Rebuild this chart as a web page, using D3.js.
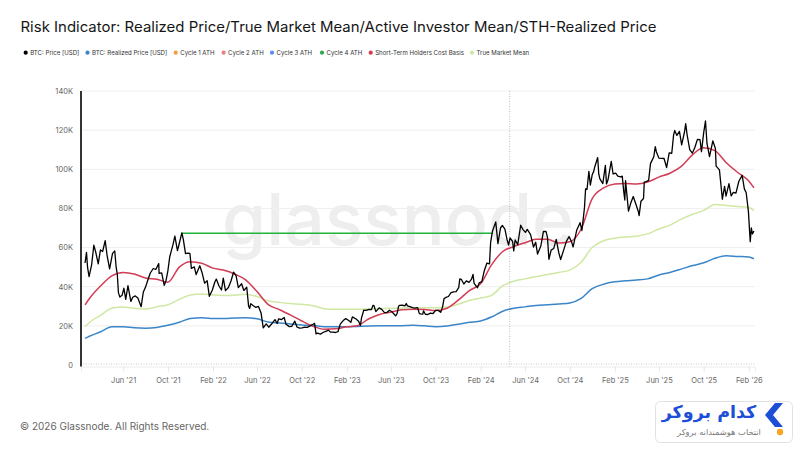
<!DOCTYPE html>
<html>
<head>
<meta charset="utf-8">
<script src="https://cdn.jsdelivr.net/npm/d3@7"></script>
<style>
  body { margin: 0; background: #fff; }
  svg { display: block; font-family: Inter, "Noto Sans", sans-serif; }
</style>
</head>
<body>
<div id="chart"></div>
<script>
// BTC price, roughly weekly
const priceData = [
  ["2021-02-17",52100],["2021-02-21",57500],["2021-02-24",49700],["2021-02-28",45200],["2021-03-07",51200],
  ["2021-03-13",61200],["2021-03-18",57800],["2021-03-25",51700],["2021-03-31",58800],["2021-04-06",58000],
  ["2021-04-13",63500],["2021-04-18",56200],["2021-04-25",49100],["2021-05-03",57000],["2021-05-09",58300],
  ["2021-05-13",49700],["2021-05-16",46400],["2021-05-19",37000],["2021-05-23",34700],["2021-05-29",35600],
  ["2021-06-03",39200],["2021-06-08",33500],["2021-06-14",40500],["2021-06-22",32500],["2021-06-27",34600],
  ["2021-07-04",35300],["2021-07-11",34200],["2021-07-20",29800],["2021-07-26",37300],["2021-08-01",39800],
  ["2021-08-08",43800],["2021-08-14",47000],["2021-08-22",49300],["2021-08-29",48800],["2021-09-06",51800],
  ["2021-09-07",46800],["2021-09-14",47100],["2021-09-21",40700],["2021-09-26",43200],["2021-10-01",48200],
  ["2021-10-06",55300],["2021-10-15",61600],["2021-10-20",65900],["2021-10-27",58400],["2021-10-31",61300],
  ["2021-11-08",67500],["2021-11-12",64200],["2021-11-18",56900],["2021-11-24",57200],["2021-11-30",57000],
  ["2021-12-04",49400],["2021-12-12",50100],["2021-12-17",46200],["2021-12-27",50700],["2022-01-02",47300],
  ["2022-01-09",41800],["2022-01-16",43100],["2022-01-22",35100],["2022-01-30",38200],["2022-02-06",42400],
  ["2022-02-10",43900],["2022-02-17",40500],["2022-02-24",38300],["2022-03-01",44400],["2022-03-07",38000],
  ["2022-03-15",39600],["2022-03-22",42900],["2022-03-29",47400],["2022-04-05",45500],["2022-04-11",39500],
  ["2022-04-20",41500],["2022-04-26",38100],["2022-05-04",39700],["2022-05-09",30100],["2022-05-12",28900],
  ["2022-05-15",31300],["2022-05-22",30300],["2022-05-29",29400],["2022-06-05",29900],["2022-06-12",26600],
  ["2022-06-18",19000],["2022-06-26",21000],["2022-07-03",19300],["2022-07-10",20800],["2022-07-20",23200],
  ["2022-07-26",21200],["2022-07-30",23600],["2022-08-07",23200],["2022-08-14",24300],["2022-08-19",20800],
  ["2022-08-28",19600],["2022-09-04",19800],["2022-09-12",22400],["2022-09-18",19400],["2022-09-25",18800],
  ["2022-10-02",19000],["2022-10-09",19400],["2022-10-16",19200],["2022-10-25",20100],["2022-10-30",20600],
  ["2022-11-05",21300],["2022-11-09",15900],["2022-11-13",16300],["2022-11-21",15800],["2022-11-27",16500],
  ["2022-12-04",17100],["2022-12-13",17800],["2022-12-18",16800],["2022-12-25",16800],["2023-01-01",16600],
  ["2023-01-08",17100],["2023-01-14",20900],["2023-01-22",22700],["2023-01-29",23700],["2023-02-05",22900],
  ["2023-02-12",21800],["2023-02-16",24600],["2023-02-26",23500],["2023-03-05",22400],["2023-03-10",20200],
  ["2023-03-13",24100],["2023-03-19",28000],["2023-03-26",27900],["2023-04-02",28400],["2023-04-09",28300],
  ["2023-04-13",30400],["2023-04-16",30300],["2023-04-21",27300],["2023-04-30",29200],["2023-05-07",28400],
  ["2023-05-14",26900],["2023-05-21",26800],["2023-05-28",28000],["2023-06-04",27200],["2023-06-14",25100],
  ["2023-06-18",26300],["2023-06-22",30000],["2023-06-25",30500],["2023-07-02",30600],["2023-07-09",30200],
  ["2023-07-13",31400],["2023-07-16",30200],["2023-07-23",29800],["2023-07-30",29300],["2023-08-06",29100],
  ["2023-08-13",29300],["2023-08-17",26600],["2023-08-20",26100],["2023-08-27",26000],["2023-08-29",27700],
  ["2023-09-03",25900],["2023-09-10",25800],["2023-09-17",26500],["2023-09-24",26300],["2023-10-01",27900],
  ["2023-10-08",27900],["2023-10-15",26900],["2023-10-20",29700],["2023-10-24",33900],["2023-10-29",34500],
  ["2023-11-05",35000],["2023-11-12",37000],["2023-11-19",37400],["2023-11-26",37500],["2023-12-03",39500],
  ["2023-12-06",44000],["2023-12-10",43800],["2023-12-17",41400],["2023-12-24",43000],["2023-12-31",42200],
  ["2024-01-07",43900],["2024-01-11",46300],["2024-01-14",41700],["2024-01-23",39500],["2024-01-28",42000],
  ["2024-02-04",42600],["2024-02-11",48300],["2024-02-18",52100],["2024-02-25",51700],["2024-02-28",62500],
  ["2024-03-04",68300],["2024-03-13",73100],["2024-03-19",62000],["2024-03-26",70000],["2024-03-31",71300],
  ["2024-04-07",69400],["2024-04-13",63900],["2024-04-17",61300],["2024-04-21",64900],["2024-04-28",63100],
  ["2024-05-01",58300],["2024-05-05",63900],["2024-05-12",61500],["2024-05-20",71400],["2024-05-26",69300],
  ["2024-06-02",67800],["2024-06-07",69300],["2024-06-16",66600],["2024-06-24",60300],["2024-06-30",62700],
  ["2024-07-05",56700],["2024-07-14",60800],["2024-07-21",68200],["2024-07-28",68300],["2024-08-01",65300],
  ["2024-08-05",54000],["2024-08-11",58700],["2024-08-18",59500],["2024-08-25",64200],["2024-09-01",57300],
  ["2024-09-06",53900],["2024-09-15",59200],["2024-09-22",63300],["2024-09-29",65600],["2024-10-06",62800],
  ["2024-10-10",60300],["2024-10-13",62900],["2024-10-20",69000],["2024-10-29",72700],["2024-11-03",68700],
  ["2024-11-10",80400],["2024-11-13",90000],["2024-11-17",89800],["2024-11-22",98900],["2024-11-26",91900],
  ["2024-12-01",97200],["2024-12-05",98800],["2024-12-08",101200],["2024-12-16",106000],["2024-12-19",97500],
  ["2024-12-22",95100],["2024-12-30",92700],["2025-01-06",102000],["2025-01-09",92500],["2025-01-13",94500],
  ["2025-01-20",102000],["2025-01-22",104000],["2025-01-27",97600],["2025-02-03",98000],["2025-02-09",96500],
  ["2025-02-16",96100],["2025-02-21",96500],["2025-02-25",88700],["2025-02-28",84300],["2025-03-02",94200],
  ["2025-03-10",78600],["2025-03-16",82600],["2025-03-23",86100],["2025-03-30",82300],["2025-04-06",78300],
  ["2025-04-08",76300],["2025-04-13",83700],["2025-04-20",85100],["2025-04-22",93400],["2025-04-27",93700],
  ["2025-05-04",94300],["2025-05-09",102900],["2025-05-18",106400],["2025-05-22",111600],["2025-05-25",109000],
  ["2025-06-01",105700],["2025-06-08",105600],["2025-06-15",105500],["2025-06-22",100900],["2025-06-29",108400],
  ["2025-07-06",108200],["2025-07-11",117500],["2025-07-14",119800],["2025-07-20",117300],["2025-07-27",119400],
  ["2025-08-02",112500],["2025-08-10",119300],["2025-08-13",123300],["2025-08-17",117500],["2025-08-24",110000],
  ["2025-08-31",108200],["2025-09-07",111100],["2025-09-14",115300],["2025-09-21",115200],["2025-09-25",109000],
  ["2025-10-01",118600],["2025-10-06",124700],["2025-10-10",113200],["2025-10-17",106500],["2025-10-26",114500],
  ["2025-11-02",110600],["2025-11-04",101600],["2025-11-13",99700],["2025-11-17",92200],["2025-11-21",84700],
  ["2025-11-27",91300],["2025-12-01",86300],["2025-12-09",92700],["2025-12-15",86400],["2025-12-21",88200],
  ["2025-12-28",87800],["2026-01-05",93900],["2026-01-14",96900],["2026-01-20",90000],["2026-01-25",88000],
  ["2026-01-31",78500],["2026-02-05",63000],["2026-02-08",70000],["2026-02-11",67000],["2026-02-15",68500]
];

// monthly dates shared by the smooth series
const monthDates = [
  "2021-02-17","2021-03-01","2021-04-01","2021-05-01","2021-06-01","2021-07-01","2021-08-01","2021-09-01",
  "2021-10-01","2021-11-01","2021-12-01","2022-01-01","2022-02-01","2022-03-01","2022-04-01","2022-05-01",
  "2022-06-01","2022-07-01","2022-08-01","2022-09-01","2022-10-01","2022-11-01","2022-12-01","2023-01-01",
  "2023-02-01","2023-03-01","2023-04-01","2023-05-01","2023-06-01","2023-07-01","2023-08-01","2023-09-01",
  "2023-10-01","2023-11-01","2023-12-01","2024-01-01","2024-02-01","2024-03-01","2024-04-01","2024-05-01",
  "2024-06-01","2024-07-01","2024-08-01","2024-09-01","2024-10-01","2024-11-01","2024-12-01","2025-01-01",
  "2025-02-01","2025-03-01","2025-04-01","2025-05-01","2025-06-01","2025-07-01","2025-08-01","2025-09-01",
  "2025-10-01","2025-11-01","2025-12-01","2026-01-01","2026-02-01","2026-02-15"
];

const realizedValues = [
  13600,14700,17000,19500,19600,19000,18800,19200,20300,21800,23800,24100,23800,23700,24000,24200,
  23600,22000,21500,21000,20500,20200,19600,19600,19600,19700,19900,20000,20000,20100,20300,20000,
  19600,19900,20800,21800,22500,24500,27500,29000,29700,30400,30800,31200,31700,34000,39000,41300,
  42500,43000,43400,44000,46000,47300,49000,50800,52200,54500,55800,55500,55200,54300
];

const sthValues = [
  30700,34000,40500,45500,47300,46500,44500,43800,42300,50000,52800,52000,49500,48500,46500,43500,
  37500,31000,28300,25500,22500,19800,18300,18500,19500,20000,23500,25800,27000,28200,28500,28300,
  27800,29000,33000,38000,41600,51000,58000,60500,62500,64200,64300,62300,63000,69500,85000,90500,
  92500,92800,92500,93500,96000,98000,101500,107500,111000,109500,103500,98500,94000,90500
];

const tmmValues = [
  19600,21700,25500,29000,29600,29000,28600,29800,30800,33500,35800,36300,35800,35500,35700,36200,
  35000,32800,32000,31400,31000,30300,28800,28500,28500,28500,28600,28800,29000,29100,29300,29300,
  29300,29600,31000,33000,34200,35500,40500,42800,44000,45200,46200,47300,48500,52500,60000,63500,
  64800,65400,65800,67000,69500,71500,74500,77000,79000,82000,81500,81000,80500,78800
];

const athLevel = 67300;
const athSpan = ["2021-11-08", "2024-03-04"];
const halvingDate = "2024-04-20";

const yTicks = [0, 20000, 40000, 60000, 80000, 100000, 120000, 140000];
const xTickDates = ["2021-06-01","2021-10-01","2022-02-01","2022-06-01","2022-10-01","2023-02-01","2023-06-01",
  "2023-10-01","2024-02-01","2024-06-01","2024-10-01","2025-02-01","2025-06-01","2025-10-01","2026-02-01"];

const legendLabels = ["BTC: Price [USD]", "BTC: Realized Price [USD]", "Cycle 1 ATH", "Cycle 2 ATH",
  "Cycle 3 ATH", "Cycle 4 ATH", "Short-Term Holders Cost Basis", "True Market Mean"];
const legendColors = ["#000000", "#3a86c8", "#f59d3d", "#ef7f7f", "#5b8ff0", "#2fa84f", "#d23c55", "#cfe8a4"];
const legendX = [25.7, 87.5, 175.7, 223.6, 272, 322, 370.7, 472];

const width = 800, height = 450;
const parse = d3.timeParse("%Y-%m-%d");

const x = d3.scaleTime()
  .domain([parse("2021-02-06"), parse("2026-02-18")])
  .range([81, 755]);
const y = d3.scaleLinear()
  .domain([0, 140000])
  .range([365, 91]);

const svg = d3.select("#chart").append("svg")
  .attr("width", width)
  .attr("height", height);

svg.append("rect").attr("width", width).attr("height", height).attr("fill", "#fff");

// title
svg.append("text")
  .attr("x", 20.5).attr("y", 31.7)
  .attr("font-size", 14.2)
  .attr("fill", "#161616")
  .attr("textLength", 636)
  .attr("lengthAdjust", "spacingAndGlyphs")
  .text("Risk Indicator: Realized Price/True Market Mean/Active Investor Mean/STH-Realized Price");

// legend
const legend = svg.append("g")
  .selectAll("g")
  .data(legendLabels)
  .join("g")
  .attr("transform", (d, i) => `translate(${legendX[i]},52.7)`);
legend.append("circle").attr("r", 2.1).attr("fill", (d, i) => legendColors[i]);
legend.append("text")
  .attr("x", 4.5).attr("dy", "0.35em")
  .attr("font-size", 6.1)
  .attr("fill", "#333")
  .text(d => d);

// watermark
svg.append("text")
  .attr("x", 222).attr("y", 245)
  .attr("font-size", 72)
  .attr("font-weight", 500)
  .attr("fill", "#eeeeee")
  .attr("textLength", 352)
  .attr("lengthAdjust", "spacingAndGlyphs")
  .text("glassnode");

// gridlines
svg.append("g")
  .selectAll("line")
  .data(yTicks.filter(d => d > 0))
  .join("line")
  .attr("x1", 81).attr("x2", 755)
  .attr("y1", d => y(d)).attr("y2", d => y(d))
  .attr("stroke", "#eeeeee");

svg.append("line")
  .attr("x1", 81).attr("x2", 755)
  .attr("y1", y(0) - 1).attr("y2", y(0) - 1)
  .attr("stroke", "#c8c8c8")
  .attr("stroke-dasharray", "1,1.5");

// axes
const xAxis = svg.append("g")
  .attr("transform", `translate(0,${y(0) + 1.5})`)
  .call(d3.axisBottom(x)
    .tickValues(xTickDates.map(parse))
    .tickSize(5)
    .tickPadding(6)
    .tickFormat(d3.timeFormat("%b '%y")));
xAxis.select(".domain").attr("stroke", "#ececec");
xAxis.selectAll(".tick line").attr("stroke", "#e6e6e6");
xAxis.selectAll("text")
  .attr("font-size", 7.5)
  .attr("fill", "#666")
  .attr("font-family", "Inter, sans-serif");

const yAxis = svg.append("g")
  .attr("transform", "translate(81,0)")
  .call(d3.axisLeft(y)
    .tickValues(yTicks)
    .tickSize(0)
    .tickPadding(8)
    .tickFormat(d => d === 0 ? "0" : (d / 1000) + "K"));
yAxis.select(".domain").remove();
yAxis.selectAll("text")
  .attr("font-size", 7.5)
  .attr("fill", "#666")
  .attr("font-family", "Inter, sans-serif");

svg.append("line")
  .attr("x1", 81).attr("x2", 81)
  .attr("y1", y(140000)).attr("y2", y(0) + 1.5)
  .attr("stroke", "#000")
  .attr("stroke-width", 1.6);

// halving marker
svg.append("line")
  .attr("x1", x(parse(halvingDate))).attr("x2", x(parse(halvingDate)))
  .attr("y1", y(140000)).attr("y2", y(0) + 1.5)
  .attr("stroke", "#bdbdbd")
  .attr("stroke-dasharray", "1,1.5");

// ATH line
svg.append("line")
  .attr("x1", x(parse(athSpan[0]))).attr("x2", x(parse(athSpan[1])))
  .attr("y1", y(athLevel)).attr("y2", y(athLevel))
  .attr("stroke", "#1fb53a")
  .attr("stroke-width", 1.4);

const smooth = d3.line()
  .x(d => x(d[0]))
  .y(d => y(d[1]))
  .curve(d3.curveMonotoneX);

const months = monthDates.map(parse);
const series = [
  { values: realizedValues, color: "#3a86c8" },
  { values: tmmValues, color: "#cfe8a4" },
  { values: sthValues, color: "#d23c55" }
];

svg.append("g")
  .selectAll("path")
  .data(series)
  .join("path")
  .attr("d", s => smooth(s.values.map((v, i) => [months[i], v])))
  .attr("fill", "none")
  .attr("stroke", s => s.color)
  .attr("stroke-width", 1.5);

const priceLine = d3.line()
  .x(d => x(parse(d[0])))
  .y(d => y(d[1]));

svg.append("path")
  .attr("d", priceLine(priceData))
  .attr("fill", "none")
  .attr("stroke", "#000")
  .attr("stroke-width", 1.3)
  .attr("stroke-linejoin", "round");

// footer
svg.append("text")
  .attr("x", 20).attr("y", 429.5)
  .attr("font-size", 10)
  .attr("fill", "#666")
  .text("© 2026 Glassnode. All Rights Reserved.");

// broker logo
const logo = svg.append("g");
logo.append("rect")
  .attr("x", 655.5).attr("y", 401.5)
  .attr("width", 137).attr("height", 41)
  .attr("rx", 5)
  .attr("fill", "#fff")
  .attr("stroke", "#e2e2e2");
logo.append("path")
  .attr("d", "M783,403 L775,403 L765,415 L775,427 L783,427 L773,415 Z")
  .attr("fill", "#1c4fd6");
logo.append("circle")
  .attr("cx", 780).attr("cy", 432).attr("r", 3.2)
  .attr("fill", "#f6a623");
logo.append("text")
  .attr("x", 709).attr("y", 418)
  .attr("text-anchor", "middle")
  .attr("font-family", "'DejaVu Sans', sans-serif")
  .attr("font-size", 17.5)
  .attr("font-weight", "bold")
  .attr("fill", "#1c4fd6")
  .attr("direction", "rtl")
  .text("کدام بروکر");
logo.append("text")
  .attr("x", 719).attr("y", 435)
  .attr("text-anchor", "middle")
  .attr("font-family", "'DejaVu Sans', sans-serif")
  .attr("font-size", 8.3)
  .attr("fill", "#7a7a7a")
  .attr("direction", "rtl")
  .text("انتخاب هوشمندانه بروکر");
</script>
</body>
</html>
